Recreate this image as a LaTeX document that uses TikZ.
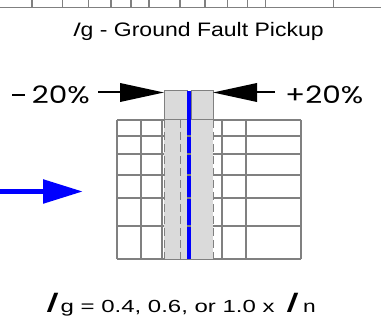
\documentclass[tikz,border=0pt]{standalone}
\usepackage{fontspec}
\usepackage{graphicx}
\setmainfont{Liberation Sans}
\newfontfamily\pctfont{Poppins}
\newfontface\slantI{Liberation Sans}[FakeSlant=0.33]
\newfontface\bigI{Liberation Sans Bold}[FakeSlant=0.38]
\usetikzlibrary{arrows.meta}
\definecolor{gridgray}{HTML}{808080}
\definecolor{bandgray}{HTML}{DADADA}
\begin{document}
\begin{tikzpicture}[x=1pt,y=-1pt,
  axisline/.style={draw=gridgray,line width=1.2pt},
  gridline/.style={draw=gridgray,line width=1.3pt},
  bandedge/.style={draw=gridgray,line width=1pt,dash pattern=on 8pt off 4pt},
  boxst/.style={draw=gridgray,line width=1pt,fill=bandgray,inner sep=0pt},
  txt/.style={inner sep=0pt},
  pointer/.style={line width=2pt,-{Triangle[length=44pt,width=18.5pt]}}]
\useasboundingbox (0,0) rectangle (381,328);
% top axis
\draw[axisline] (0,7.5) -- (381,7.5);
\foreach \x in {32,62.5,88.5,111,131,149,180,205,227.5,247.5,265.5,333.5}
  \draw[axisline] (\x,0) -- (\x,7.5);
% grid
\foreach \y in {120,136,154,175,198,226,259}
  \draw[gridline] (117,\y) -- (301,\y);
\foreach \x in {117,141,162,180,222,246,301}
  \draw[gridline] (\x,120) -- (\x,259);
% tolerance band
\fill[bandgray] (164,91) rectangle (213,259);
\draw[bandedge] (164,120) -- (164,259);
\draw[bandedge] (213,120) -- (213,259);
\draw[bandedge] (180,120) -- (180,259);
\draw[line width=1pt,dash pattern=on 8pt off 4pt] (187,120) -- (187,259);
\node[boxst,minimum width=23pt,minimum height=29pt] (boxL) at (175.5,105.5) {};
\node[boxst,minimum width=22pt,minimum height=29pt] (boxR) at (202,105.5) {};
\draw[blue,line width=3.5pt] (189,91) -- (189,259);
\foreach \y in {136,154,175,198,226}
  \draw[gridgray,line width=1.3pt] (187.3,\y) -- (190.7,\y);
% labels
\node[txt,anchor=base] (title) at (197.5,36.7)
  {\fontsize{19.5}{20}\selectfont\scalebox{1.18}[1]{{\slantI I}\kern2.5pt g - Ground Fault Pickup}};
\node[txt,anchor=base east] (minus) at (90,103.3)
  {\rule[7.5pt]{12.7pt}{2pt}\hspace{6.7pt}\pctfont\fontsize{24}{24}\selectfont\scalebox{1.23}[1]{20\%}};
\node[txt,anchor=base west] (plus) at (285,103.3)
  {\pctfont\fontsize{24}{24}\selectfont\scalebox{1.23}[1]{+20\%}};
% pointers
\coordinate (lstart) at (98,92.5);
\coordinate (ltip) at (164,92.5);
\coordinate (rstart) at (275,92.5);
\coordinate (rtip) at (213,92.5);
\draw[pointer] (lstart) -- (ltip);
\draw[pointer] (rstart) -- (rtip);
% blue input arrow
\coordinate (bstart) at (0,191.5);
\coordinate (btip) at (83,191.5);
\draw[blue,line width=5.5pt,-{Triangle[length=40pt,width=23pt]}] (bstart) -- (btip);
% bottom formula
\node[txt,anchor=base west] (bI1) at (45,313) {\fontsize{28}{28}\selectfont\bigI I};
\node[txt,anchor=base west] (bform) at (60.5,313)
  {\fontsize{17.5}{18}\selectfont\scalebox{1.37}[1]{g = 0.4, 0.6, or 1.0 x}};
\node[txt,anchor=base west] (bI2) at (285,313) {\fontsize{28}{28}\selectfont\bigI I};
\node[txt,anchor=base west] (bn) at (303,313) {\fontsize{17.5}{18}\selectfont\scalebox{1.3}[1]{n}};
\end{tikzpicture}
\end{document}
